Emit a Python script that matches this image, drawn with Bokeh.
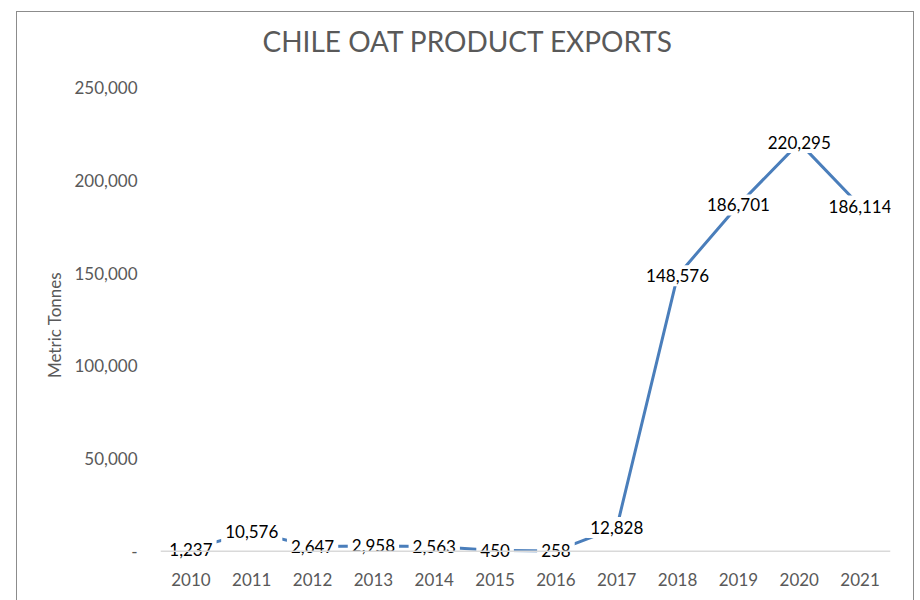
from bokeh.plotting import figure
from bokeh.models import Range1d, FactorRange, FixedTicker, Span, ColumnDataSource, Title
from bokeh.core.properties import value
from bokeh.embed import file_html
from bokeh.resources import INLINE

years = ["2010", "2011", "2012", "2013", "2014", "2015", "2016", "2017", "2018", "2019", "2020", "2021"]
exports = [1237, 10576, 2647, 2958, 2563, 450, 258, 12828, 148576, 186701, 220295, 186114]
y_ticks = [0, 50000, 100000, 150000, 200000, 250000]
y_tick_labels = ["-", "50,000", "100,000", "150,000", "200,000", "250,000"]
title_text = "CHILE OAT PRODUCT EXPORTS"
y_label = "Metric Tonnes"

FONT = "Lato"
GREY = "#595959"

src = ColumnDataSource(dict(x=years, y=exports, lbl=[f"{v:,}" for v in exports]))

p = figure(width=896, height=588, x_range=FactorRange(*years), y_range=Range1d(-6000, 250000),
           output_backend="svg", toolbar_location=None, title=None,
           min_border_left=143, min_border_right=23, min_border_top=75, min_border_bottom=38)
p.margin = (12, 0, 0, 17)
p.styles = {"outline": "1.5px solid #8c8c8c"}
p.outline_line_color = None
p.xgrid.grid_line_color = None
p.ygrid.grid_line_color = None
p.background_fill_color = "white"
p.border_fill_color = "white"

p.add_layout(Span(location=0, dimension="width", line_color="#d9d9d9", line_width=1.5))
p.line("x", "y", source=src, line_color="#4a7ebb", line_width=3)
p.text("x", "y", text="lbl", source=src, text_align="center", text_baseline="middle",
       text_font=value(FONT), text_font_size="17px", text_color="black",
       background_fill_color="white", padding=4)

p.yaxis.ticker = FixedTicker(ticks=y_ticks)
p.yaxis.major_label_overrides = {t: l for t, l in zip(y_ticks, y_tick_labels)}
p.yaxis.axis_line_color = None
p.yaxis.major_tick_line_color = None
p.yaxis.minor_tick_line_color = None
p.yaxis.major_label_standoff = 17
p.yaxis.major_label_text_font = FONT
p.yaxis.major_label_text_font_size = "17px"
p.yaxis.major_label_text_color = GREY
p.yaxis.axis_label = y_label
p.yaxis.axis_label_text_font = FONT
p.yaxis.axis_label_text_font_size = "17px"
p.yaxis.axis_label_text_font_style = "normal"
p.yaxis.axis_label_text_color = GREY
p.yaxis.axis_label_standoff = 6

p.xaxis.axis_line_color = None
p.xaxis.major_tick_line_color = None
p.xaxis.minor_tick_line_color = None
p.xaxis.major_label_standoff = 4
p.xaxis.major_label_text_font = FONT
p.xaxis.major_label_text_font_size = "17px"
p.xaxis.major_label_text_color = GREY

spacer = Title(text=" ", text_font_size="1px", standoff=27)
main_title = Title(text=title_text, align="left", offset=102, text_font=FONT,
                   text_font_size="28px", text_font_style="normal", text_color=GREY, standoff=0)
p.add_layout(spacer, "above")
p.add_layout(main_title, "above")

open("out.html", "w").write(file_html(p, INLINE))
